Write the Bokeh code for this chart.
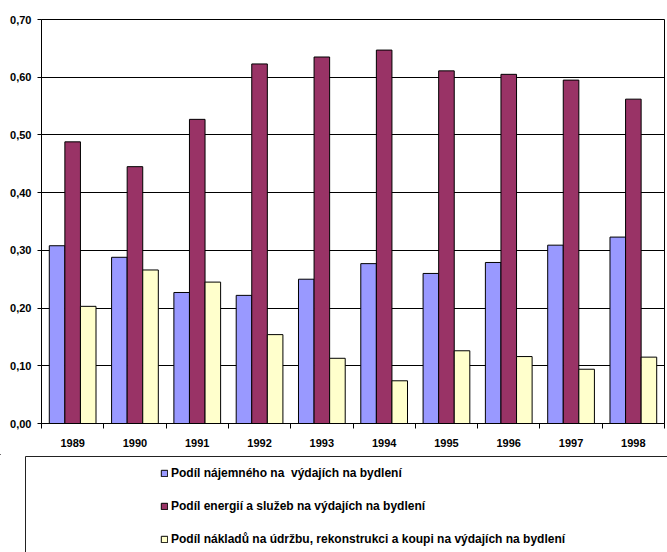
from bokeh.plotting import figure
from bokeh.layouts import column
from bokeh.models import (ColumnDataSource, Range1d, FixedTicker, CustomJSTickFormatter,
                          Legend, LegendItem)
from bokeh.transform import dodge
from bokeh.embed import file_html
from bokeh.resources import INLINE

# Shares of housing expenditure, 1989-1998
years = ["1989", "1990", "1991", "1992", "1993", "1994", "1995", "1996", "1997", "1998"]
najemne = [0.308, 0.288, 0.227, 0.222, 0.250, 0.277, 0.260, 0.279, 0.309, 0.323]
energie = [0.488, 0.445, 0.527, 0.623, 0.635, 0.647, 0.611, 0.605, 0.595, 0.562]
udrzba = [0.203, 0.266, 0.245, 0.154, 0.113, 0.074, 0.126, 0.116, 0.094, 0.115]
y_ticks = [0.0, 0.1, 0.2, 0.3, 0.4, 0.5, 0.6, 0.7]

labels = [
    "Podíl nájemného na  výdajích na bydlení",
    "Podíl energií a služeb na výdajích na bydlení",
    "Podíl nákladů na údržbu, rekonstrukci a koupi na výdajích na bydlení",
]
colors = ["#9999FF", "#993366", "#FFFFCC"]
series = ["najemne", "energie", "udrzba"]

centers = [i + 0.5 for i in range(len(years))]
src = ColumnDataSource(dict(x=centers, najemne=najemne, energie=energie, udrzba=udrzba))

FONT = "Liberation Sans"
W = 667
CHART_H = 454
LEGEND_H = 552 - CHART_H

# ---- bar chart ----
p = figure(width=W, height=CHART_H, x_range=Range1d(0, len(years)), y_range=Range1d(0, 0.7),
           output_backend="svg", toolbar_location=None,
           min_border_left=41, min_border_right=3, min_border_top=19, min_border_bottom=31,
           background_fill_color="white", border_fill_color="white")
p.frame_align = False
p.title.visible = False

bar_w = 0.25
for col, off, c in zip(series, [-bar_w, 0.0, bar_w], colors):
    p.vbar(x=dodge("x", off), top=col, width=bar_w, source=src,
           fill_color=c, line_color="black", line_width=1)

# x axis: labels at category centres, tick marks at category boundaries
p.xaxis.ticker = FixedTicker(ticks=centers, minor_ticks=list(range(len(years) + 1)))
p.xaxis.major_label_overrides = {c: y for c, y in zip(centers, years)}
p.xaxis.major_tick_out = 0
p.xaxis.major_tick_in = 0
p.xaxis.minor_tick_out = 5
p.xaxis.minor_tick_in = 0
p.xaxis.major_label_standoff = 10

# y axis with decimal comma
p.yaxis.ticker = FixedTicker(ticks=y_ticks)
p.yaxis.formatter = CustomJSTickFormatter(code="return tick.toFixed(2).replace('.', ',');")
p.yaxis.major_tick_out = 4
p.yaxis.major_tick_in = 0
p.yaxis.minor_tick_out = 0
p.yaxis.minor_tick_in = 0
p.yaxis.major_label_standoff = 6

for ax in (p.xaxis[0], p.yaxis[0]):
    ax.axis_line_color = "black"
    ax.major_tick_line_color = "black"
    ax.minor_tick_line_color = "black"
    ax.major_label_text_font = FONT
    ax.major_label_text_font_style = "bold"
    ax.major_label_text_font_size = "11px"
    ax.major_label_text_color = "black"

p.xgrid.visible = False
p.ygrid.ticker = FixedTicker(ticks=y_ticks)
p.ygrid.grid_line_color = "black"
p.ygrid.grid_line_width = 1

p.outline_line_color = "black"
p.outline_line_width = 1

# ---- legend panel (pixel coordinates, y downwards) ----
lg = figure(width=W, height=LEGEND_H, x_range=Range1d(0, W), y_range=Range1d(LEGEND_H, 0),
            output_backend="svg", toolbar_location=None,
            x_axis_location=None, y_axis_location=None,
            min_border=0, min_border_left=0, min_border_right=0,
            min_border_top=0, min_border_bottom=0,
            background_fill_color="white", border_fill_color="white")
lg.frame_align = False
lg.title.visible = False
lg.grid.visible = False
lg.outline_line_color = None

# legend frame: open towards the right and bottom edges
lg.quad(left=[25], right=[W + 40], top=[2], bottom=[LEGEND_H + 40],
        fill_color=None, line_color="#222222", line_width=1)

# swatch renderers for the legend, kept far outside the visible range
swatches = [lg.vbar(x=[-5000], top=[-5000], bottom=[-5001], width=1,
                    fill_color=c, line_color="black", line_width=1)
            for c in colors]

legend = Legend(items=[LegendItem(label=l, renderers=[r]) for l, r in zip(labels, swatches)],
                location=(160, 6), orientation="vertical",
                padding=0, margin=0, spacing=19,
                glyph_width=8, glyph_height=8, label_height=14, label_standoff=3,
                border_line_alpha=0, background_fill_alpha=0,
                label_text_font=FONT, label_text_font_style="bold",
                label_text_font_size="12px", label_text_color="black")
lg.add_layout(legend)

layout = column(p, lg, spacing=0)
open("out.html", "w").write(file_html(layout, INLINE))
